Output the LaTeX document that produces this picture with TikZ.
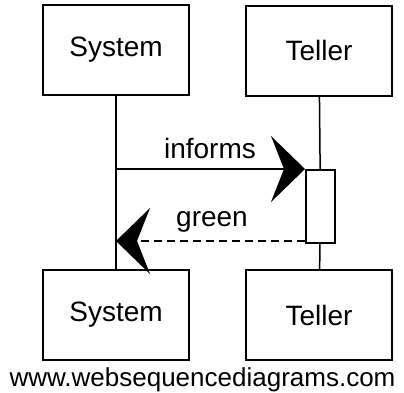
\documentclass[tikz,border=0pt]{standalone}
\usepackage{fontspec}
\setmainfont{Liberation Sans}
\usetikzlibrary{arrows.meta}

\tikzset{
	actor/.style={draw, line width=2pt, minimum width=146pt, minimum height=90pt, font=\fontsize{28}{30}\selectfont},
	life/.style={line width=1.5pt},
	msg/.style={line width=2pt, -{Stealth[length=34pt, width=66pt, inset=13pt]}},
	label/.style={font=\fontsize{28}{30}\selectfont, inner sep=0pt}
}

\begin{document}
\begin{tikzpicture}[x=1pt, y=-1pt]
	\useasboundingbox (0,0) rectangle (404,392);
	\node[actor] (sysTop) at (116,50) {System};
	\node[actor] (tellTop) at (319,50.5) {Teller};
	\node[actor] (sysBot) at (116,314.5) {System};
	\node[actor] (tellBot) at (319,315) {Teller};
	\node[draw, line width=2pt, minimum width=29pt, minimum height=73pt, inner sep=0pt] (act) at (320.5,206.5) {};
	\draw[life] (sysTop) -- (sysBot);
	\draw[life] (tellTop) -- (act);
	\draw[life] (act) -- (tellBot);
	\draw[msg] (act.north west -| sysTop.south) -- (act.north west) node[label] (informs) at (210,148) {informs};
	\draw[msg, dash pattern=on 8pt off 5pt] ([yshift=3pt]act.south west) -- ([yshift=3pt]act.south west -| sysTop.south) node[label] (green) at (212,222) {green};
	\node[font=\fontsize{26}{28}\selectfont, inner sep=0pt, anchor=base] (site) at (202.5,386) {www.websequencediagrams.com};
\end{tikzpicture}
\end{document}
